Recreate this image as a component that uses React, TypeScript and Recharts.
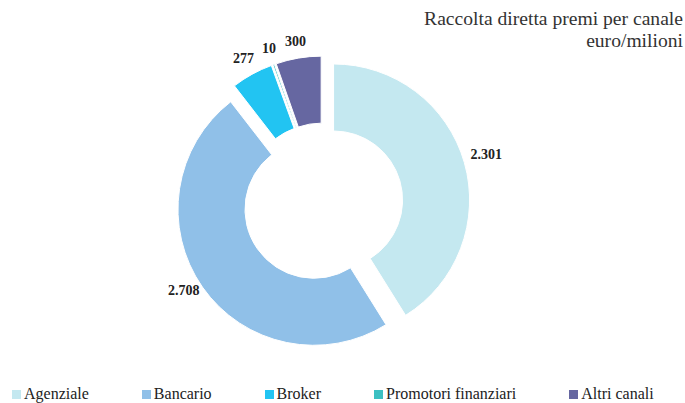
import { PieChart, Pie, Cell, Sector } from 'recharts'

const channels = ['Agenziale', 'Bancario', 'Broker', 'Promotori finanziari', 'Altri canali']
const premiums = [2301, 2708, 277, 10, 300]
const palette = ['#c4e8f0', '#90c0e8', '#22c4f2', '#3cc0c2', '#6667a1']
const titleLines = ['Raccolta diretta premi per canale', 'euro/milioni']

const data = channels.map((name, i) => ({ name, value: premiums[i], color: palette[i] }))

const RAD = Math.PI / 180
const EXPLODE = 11
const serif = '"Liberation Serif", "Times New Roman", serif'

// italian thousands separator
const fmt = (v: number) => String(v).replace(/\B(?=(\d{3})+(?!\d))/g, '.')

function ExplodedSector(props: any) {
  const { cx, cy, midAngle } = props
  const dx = Math.cos(-midAngle * RAD) * EXPLODE
  const dy = Math.sin(-midAngle * RAD) * EXPLODE
  return <Sector {...props} cx={cx + dx} cy={cy + dy} />
}

function renderLabel(props: any) {
  const { cx, cy, midAngle, outerRadius, value } = props
  const cos = Math.cos(-midAngle * RAD)
  const sin = Math.sin(-midAngle * RAD)
  const text = fmt(value)
  const halfW = (text.replace('.', '').length * 7 + (text.includes('.') ? 3.5 : 0)) / 2
  const r = outerRadius + EXPLODE + 7
  return (
    <text
      x={cx + cos * (r + halfW)}
      y={cy + sin * (r + 6) - 4}
      textAnchor="middle"
      dominantBaseline="central"
      fontFamily={serif}
      fontWeight="bold"
      fontSize={14}
      fill="#222"
    >
      {text}
    </text>
  )
}

export default function App() {
  return (
    <div style={{ position: 'absolute', left: 0, top: 0, width: 685, height: 403, background: '#fff' }}>
      <div
        style={{
          position: 'absolute',
          right: 2,
          top: 8,
          textAlign: 'right',
          fontFamily: serif,
          fontSize: 19.6,
          lineHeight: '22px',
          color: '#333',
          whiteSpace: 'nowrap',
        }}
      >
        {titleLines.map((t) => (
          <div key={t}>{t}</div>
        ))}
      </div>
      <PieChart width={685} height={403} margin={{ top: 0, right: 0, bottom: 0, left: 0 }}>
        <Pie
          data={data}
          dataKey="value"
          nameKey="name"
          cx={323}
          cy={203}
          innerRadius={69}
          outerRadius={136}
          startAngle={90}
          endAngle={-270}
          stroke="#fff"
          strokeWidth={1}
          shape={ExplodedSector}
          activeShape={ExplodedSector}
          label={renderLabel}
          labelLine={false}
          isAnimationActive={false}
        >
          {data.map((d) => (
            <Cell key={d.name} fill={d.color} />
          ))}
        </Pie>
      </PieChart>
      <div
        style={{
          position: 'absolute',
          left: 12,
          top: 385,
          display: 'flex',
          alignItems: 'center',
          fontFamily: serif,
          fontSize: 16,
          lineHeight: '18px',
          color: '#222',
          whiteSpace: 'nowrap',
        }}
      >
        {data.map((d) => (
          <div key={d.name} style={{ display: 'flex', alignItems: 'center', marginRight: 53, flexShrink: 0 }}>
            <span style={{ width: 9, height: 9, background: d.color, marginRight: 3, display: 'inline-block' }} />
            <span>{d.name}</span>
          </div>
        ))}
      </div>
    </div>
  )
}
